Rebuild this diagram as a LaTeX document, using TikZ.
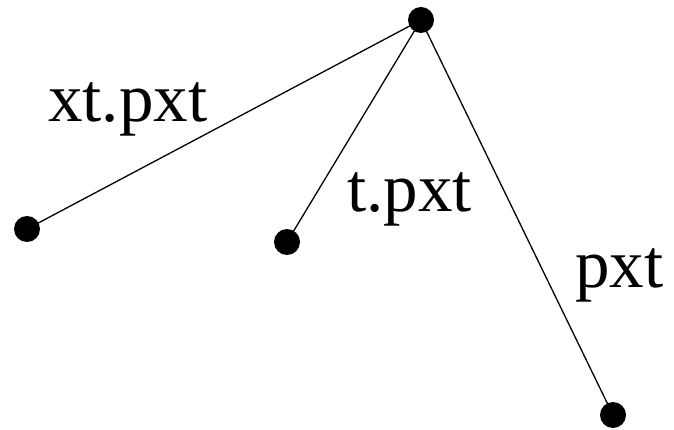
\documentclass[tikz,border=0pt]{standalone}
\usepackage{fontspec}
\setmainfont{Liberation Serif}
\begin{document}
\begin{tikzpicture}[x=1pt,y=-1pt,
  dot/.style={circle,fill=black,inner sep=0pt,minimum size=26pt},
  edge/.style={line width=1.3pt},
  lbl/.style={inner sep=0pt,anchor=base west,font=\fontsize{69}{80}\selectfont}]
\useasboundingbox (0,0) rectangle (674,430);
\node[dot] (top) at (421,20) {};
\node[dot] (l) at (27,229) {};
\node[dot] (m) at (287,242) {};
\node[dot] (r) at (613,415) {};
\draw[edge] (top.center) -- (l.center);
\draw[edge] (top.center) -- (m.center);
\draw[edge] (top.center) -- (r.center);
\node[lbl] (a) at (48,122) {xt.pxt};
\node[lbl] (b) at (347,212) {t.pxt};
\node[lbl] (c) at (575,287) {pxt};
\end{tikzpicture}
\end{document}
